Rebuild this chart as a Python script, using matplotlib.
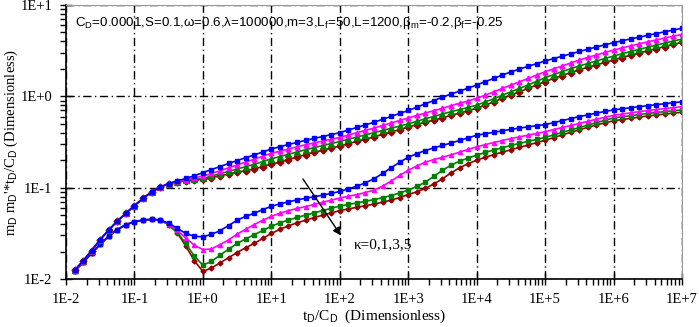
import numpy as np
import matplotlib.pyplot as plt
from matplotlib.ticker import LogLocator, NullFormatter, FixedLocator

# ------------------------- 时间 (log10 tD/CD) -------------------------
logt = np.arange(-1.875, 7.001, 0.125)

# ------------------------- 上面一组 (m_D) -------------------------
up_early = [0.0124, 0.0158, 0.0205, 0.0270, 0.0345, 0.0430, 0.0525, 0.0635,
            0.0765, 0.0895, 0.1010, 0.1110]
up_blue = up_early + [
    0.119, 0.126, 0.135, 0.146, 0.158, 0.170, 0.184, 0.198, 0.213, 0.228, 0.246, 0.265,
    0.281, 0.297, 0.313, 0.330, 0.346, 0.363, 0.381, 0.400, 0.428, 0.456, 0.487, 0.520,
    0.56, 0.603, 0.65, 0.70, 0.76, 0.83, 0.90, 0.98, 1.06, 1.14, 1.23, 1.33,
    1.45, 1.57, 1.71, 1.85, 1.99, 2.13, 2.28, 2.44, 2.59, 2.75, 2.92, 3.10,
    3.28, 3.47, 3.67, 3.87, 4.06, 4.25, 4.45, 4.65, 4.87, 5.09, 5.32, 5.56]
up_mag = up_early + [
    0.117, 0.122, 0.128, 0.134, 0.143, 0.153, 0.165, 0.177, 0.191, 0.205, 0.221, 0.238,
    0.251, 0.265, 0.280, 0.295, 0.309, 0.324, 0.339, 0.355, 0.377, 0.400, 0.424, 0.450,
    0.480, 0.511, 0.544, 0.58, 0.617, 0.656, 0.697, 0.74, 0.79, 0.84, 0.89, 0.95,
    1.03, 1.12, 1.22, 1.33, 1.44, 1.57, 1.71, 1.86, 2.00, 2.15, 2.32, 2.50,
    2.67, 2.84, 3.02, 3.21, 3.39, 3.57, 3.76, 3.95, 4.15, 4.35, 4.56, 4.77]
up_green = up_early + [
    0.116, 0.120, 0.123, 0.126, 0.134, 0.142, 0.151, 0.160, 0.170, 0.180, 0.193, 0.207,
    0.219, 0.232, 0.246, 0.260, 0.274, 0.289, 0.304, 0.320, 0.339, 0.358, 0.378, 0.400,
    0.423, 0.447, 0.473, 0.50, 0.533, 0.568, 0.603, 0.64, 0.68, 0.715, 0.755, 0.80,
    0.87, 0.94, 1.03, 1.12, 1.22, 1.33, 1.46, 1.60, 1.73, 1.87, 2.01, 2.15,
    2.29, 2.44, 2.60, 2.76, 2.93, 3.10, 3.27, 3.45, 3.64, 3.83, 4.03, 4.24]
up_red = up_early + [
    0.116, 0.119, 0.121, 0.123, 0.129, 0.135, 0.141, 0.148, 0.154, 0.160, 0.170, 0.180,
    0.191, 0.203, 0.216, 0.230, 0.243, 0.257, 0.271, 0.286, 0.303, 0.321, 0.340, 0.360,
    0.383, 0.407, 0.432, 0.46, 0.49, 0.52, 0.55, 0.58, 0.62, 0.655, 0.695, 0.74,
    0.80, 0.87, 0.95, 1.03, 1.12, 1.22, 1.33, 1.45, 1.57, 1.69, 1.82, 1.95,
    2.08, 2.21, 2.35, 2.50, 2.66, 2.82, 2.98, 3.15, 3.33, 3.51, 3.70, 3.90]

# ------------------------- 下面一组 (导数) -------------------------
lo_early = [0.0122, 0.0152, 0.0192, 0.0240, 0.0295, 0.0348, 0.0393, 0.0424,
            0.0442, 0.0449, 0.0443]
lo_blue = lo_early + [
    0.0408, 0.0360, 0.0315, 0.0293, 0.0290, 0.0308, 0.0338, 0.0385, 0.0440, 0.0485, 0.0525, 0.0575,
    0.0625, 0.0665, 0.0700, 0.0735, 0.0765, 0.0795, 0.0828, 0.0865, 0.0910, 0.0970, 0.1040, 0.1130,
    0.1250, 0.1430, 0.1650, 0.1900, 0.2150, 0.2360, 0.2550, 0.2730, 0.2900, 0.3080, 0.3290, 0.3510,
    0.3750, 0.3890, 0.4040, 0.4190, 0.4350, 0.4490, 0.4630, 0.4770, 0.4900, 0.5150, 0.5420, 0.5700,
    0.6000, 0.6270, 0.6550, 0.6830, 0.7100, 0.7300, 0.7500, 0.7700, 0.7900, 0.8100, 0.8300, 0.8510,
    0.8730]
lo_mag = lo_early + [
    0.0400, 0.0340, 0.0280, 0.0234, 0.0210, 0.0213, 0.0238, 0.0268, 0.0310, 0.0350, 0.0395, 0.0440,
    0.0485, 0.0525, 0.0560, 0.0592, 0.0620, 0.0655, 0.0690, 0.0730, 0.0770, 0.0805, 0.0840, 0.0885,
    0.0940, 0.1040, 0.1180, 0.1360, 0.1550, 0.1730, 0.1900, 0.2030, 0.2150, 0.2290, 0.2450, 0.2620,
    0.2800, 0.2960, 0.3120, 0.3280, 0.3450, 0.3600, 0.3760, 0.3930, 0.4100, 0.4320, 0.4560, 0.4800,
    0.5050, 0.5330, 0.5620, 0.5910, 0.6200, 0.6400, 0.6600, 0.6800, 0.7000, 0.7170, 0.7350, 0.7520,
    0.7700]
lo_green = lo_early + [
    0.0395, 0.0325, 0.0245, 0.0178, 0.0142, 0.0156, 0.0182, 0.0212, 0.0245, 0.0275, 0.0305, 0.0340,
    0.0378, 0.0412, 0.0443, 0.0472, 0.0500, 0.0530, 0.0560, 0.0595, 0.0630, 0.0655, 0.0680, 0.0710,
    0.0740, 0.0775, 0.0820, 0.0875, 0.0940, 0.1030, 0.1150, 0.1330, 0.1550, 0.1760, 0.1950, 0.2110,
    0.2270, 0.2430, 0.2590, 0.2740, 0.2900, 0.3050, 0.3210, 0.3380, 0.3550, 0.3780, 0.4030, 0.4290,
    0.4550, 0.4850, 0.5150, 0.5470, 0.5800, 0.5970, 0.6140, 0.6320, 0.6500, 0.6650, 0.6800, 0.6950,
    0.7100]
lo_red = lo_early + [
    0.0392, 0.0320, 0.0230, 0.0158, 0.0121, 0.0132, 0.0150, 0.0171, 0.0195, 0.0220, 0.0245, 0.0278,
    0.0315, 0.0350, 0.0382, 0.0412, 0.0440, 0.0470, 0.0500, 0.0530, 0.0560, 0.0585, 0.0610, 0.0635,
    0.0660, 0.0695, 0.0730, 0.0780, 0.0840, 0.0900, 0.0980, 0.1100, 0.1250, 0.1450, 0.1650, 0.1830,
    0.2000, 0.2150, 0.2300, 0.2450, 0.2600, 0.2760, 0.2930, 0.3110, 0.3300, 0.3530, 0.3780, 0.4040,
    0.4300, 0.4580, 0.4860, 0.5130, 0.5400, 0.5570, 0.5750, 0.5920, 0.6100, 0.6250, 0.6400, 0.6550,
    0.6700]

xticks = [1e-2, 1e-1, 1e0, 1e1, 1e2, 1e3, 1e4, 1e5, 1e6, 1e7]
xtick_labels = ['1E-2', '1E-1', '1E+0', '1E+1', '1E+2', '1E+3', '1E+4', '1E+5', '1E+6', '1E+7']
yticks = [1e-2, 1e-1, 1e0, 1e1]
ytick_labels = ['1E-2', '1E-1', '1E+0', '1E+1']

param_text = (r'C$_{\rm D}$=0.0001,S=0.1,ω=0.6,λ=100000,m=3,L$_{\rm f}$=50,'
              r'L=1200,β$_{\rm m}$=-0.2,β$_{\rm f}$=-0.25')

# ------------------------- 作图 -------------------------
plt.rcParams['mathtext.fontset'] = 'custom'
plt.rcParams['mathtext.rm'] = 'Liberation Sans'
serif = 'Liberation Serif'

fig = plt.figure(figsize=(6.99, 3.27), dpi=100)
ax = fig.add_axes([66 / 699, 1 - 279 / 327, 616 / 699, 274 / 327])

t = 10 ** logt
blue, mag, green, red = '#0000FF', '#FF00FF', '#008000', '#990000'
lw = 1.2
# 先画红色，最后画蓝色（蓝色在最上面）
ax.plot(t, lo_red, color=red, marker='D', ms=2.5, lw=lw)
ax.plot(t, lo_green, color=green, marker='s', ms=3.5, lw=lw)
ax.plot(t, lo_mag, color=mag, marker='^', ms=3, lw=lw)
ax.plot(t, lo_blue, color=blue, marker='s', ms=3.5, lw=lw)
ax.plot(t, up_red, color=red, marker='D', ms=3.5, lw=lw)
ax.plot(t, up_green, color=green, marker='^', ms=5, lw=lw)
ax.plot(t, up_mag, color=mag, marker='^', ms=3.5, lw=lw)
ax.plot(t, up_blue, color=blue, marker='s', ms=3.5, lw=lw)

ax.set_xscale('log')
ax.set_yscale('log')
ax.set_xlim(1e-2, 1e7)
ax.set_ylim(1e-2, 1e1)

ax.xaxis.set_major_locator(FixedLocator(xticks))
ax.set_xticklabels(xtick_labels, fontfamily=serif, fontsize=10.5)
ax.yaxis.set_major_locator(FixedLocator(yticks))
ax.set_yticklabels(ytick_labels, fontfamily=serif, fontsize=10.5)
ax.xaxis.set_minor_locator(LogLocator(base=10, subs=np.arange(2, 10), numticks=20))
ax.yaxis.set_minor_locator(LogLocator(base=10, subs=np.arange(2, 10), numticks=20))
ax.xaxis.set_minor_formatter(NullFormatter())
ax.yaxis.set_minor_formatter(NullFormatter())
ax.tick_params(which='major', direction='inout', length=8, width=1, colors='black', pad=6)
ax.tick_params(which='minor', direction='out', length=4, width=1)

ax.grid(True, which='major', color='black', linestyle=(0, (6, 2.5, 1, 2.5)), linewidth=1)
for s in ['top', 'right']:
    ax.spines[s].set_color('#999999')
for s in ['left', 'bottom']:
    ax.spines[s].set_color('black')
    ax.spines[s].set_linewidth(1.2)

ax.set_xlabel(r't$_{\rm D}$/C$_{\rm D}$  (Dimensionless)', fontfamily=serif, fontsize=11, labelpad=1)
ax.set_ylabel(r"m$_{\rm D}$ m$_{\rm D}$'*t$_{\rm D}$/C$_{\rm D}$ (Dimensionless)",
              fontfamily=serif, fontsize=10.5, labelpad=0)

ax.text(0.015, 0.935, param_text, transform=ax.transAxes, fontsize=9.6,
        fontfamily='Liberation Sans', va='center', ha='left')

ax.annotate('', xy=(10 ** 2.04, 10 ** -1.55), xytext=(10 ** 1.44, 10 ** -0.88),
            arrowprops=dict(arrowstyle='-|>', color='black', lw=1, mutation_scale=12))
ax.text(10 ** 2.2, 10 ** -1.62, 'κ=0,1,3,5', fontfamily=serif, fontsize=11, va='center', ha='left')

fig.savefig('out.png', dpi=100)
